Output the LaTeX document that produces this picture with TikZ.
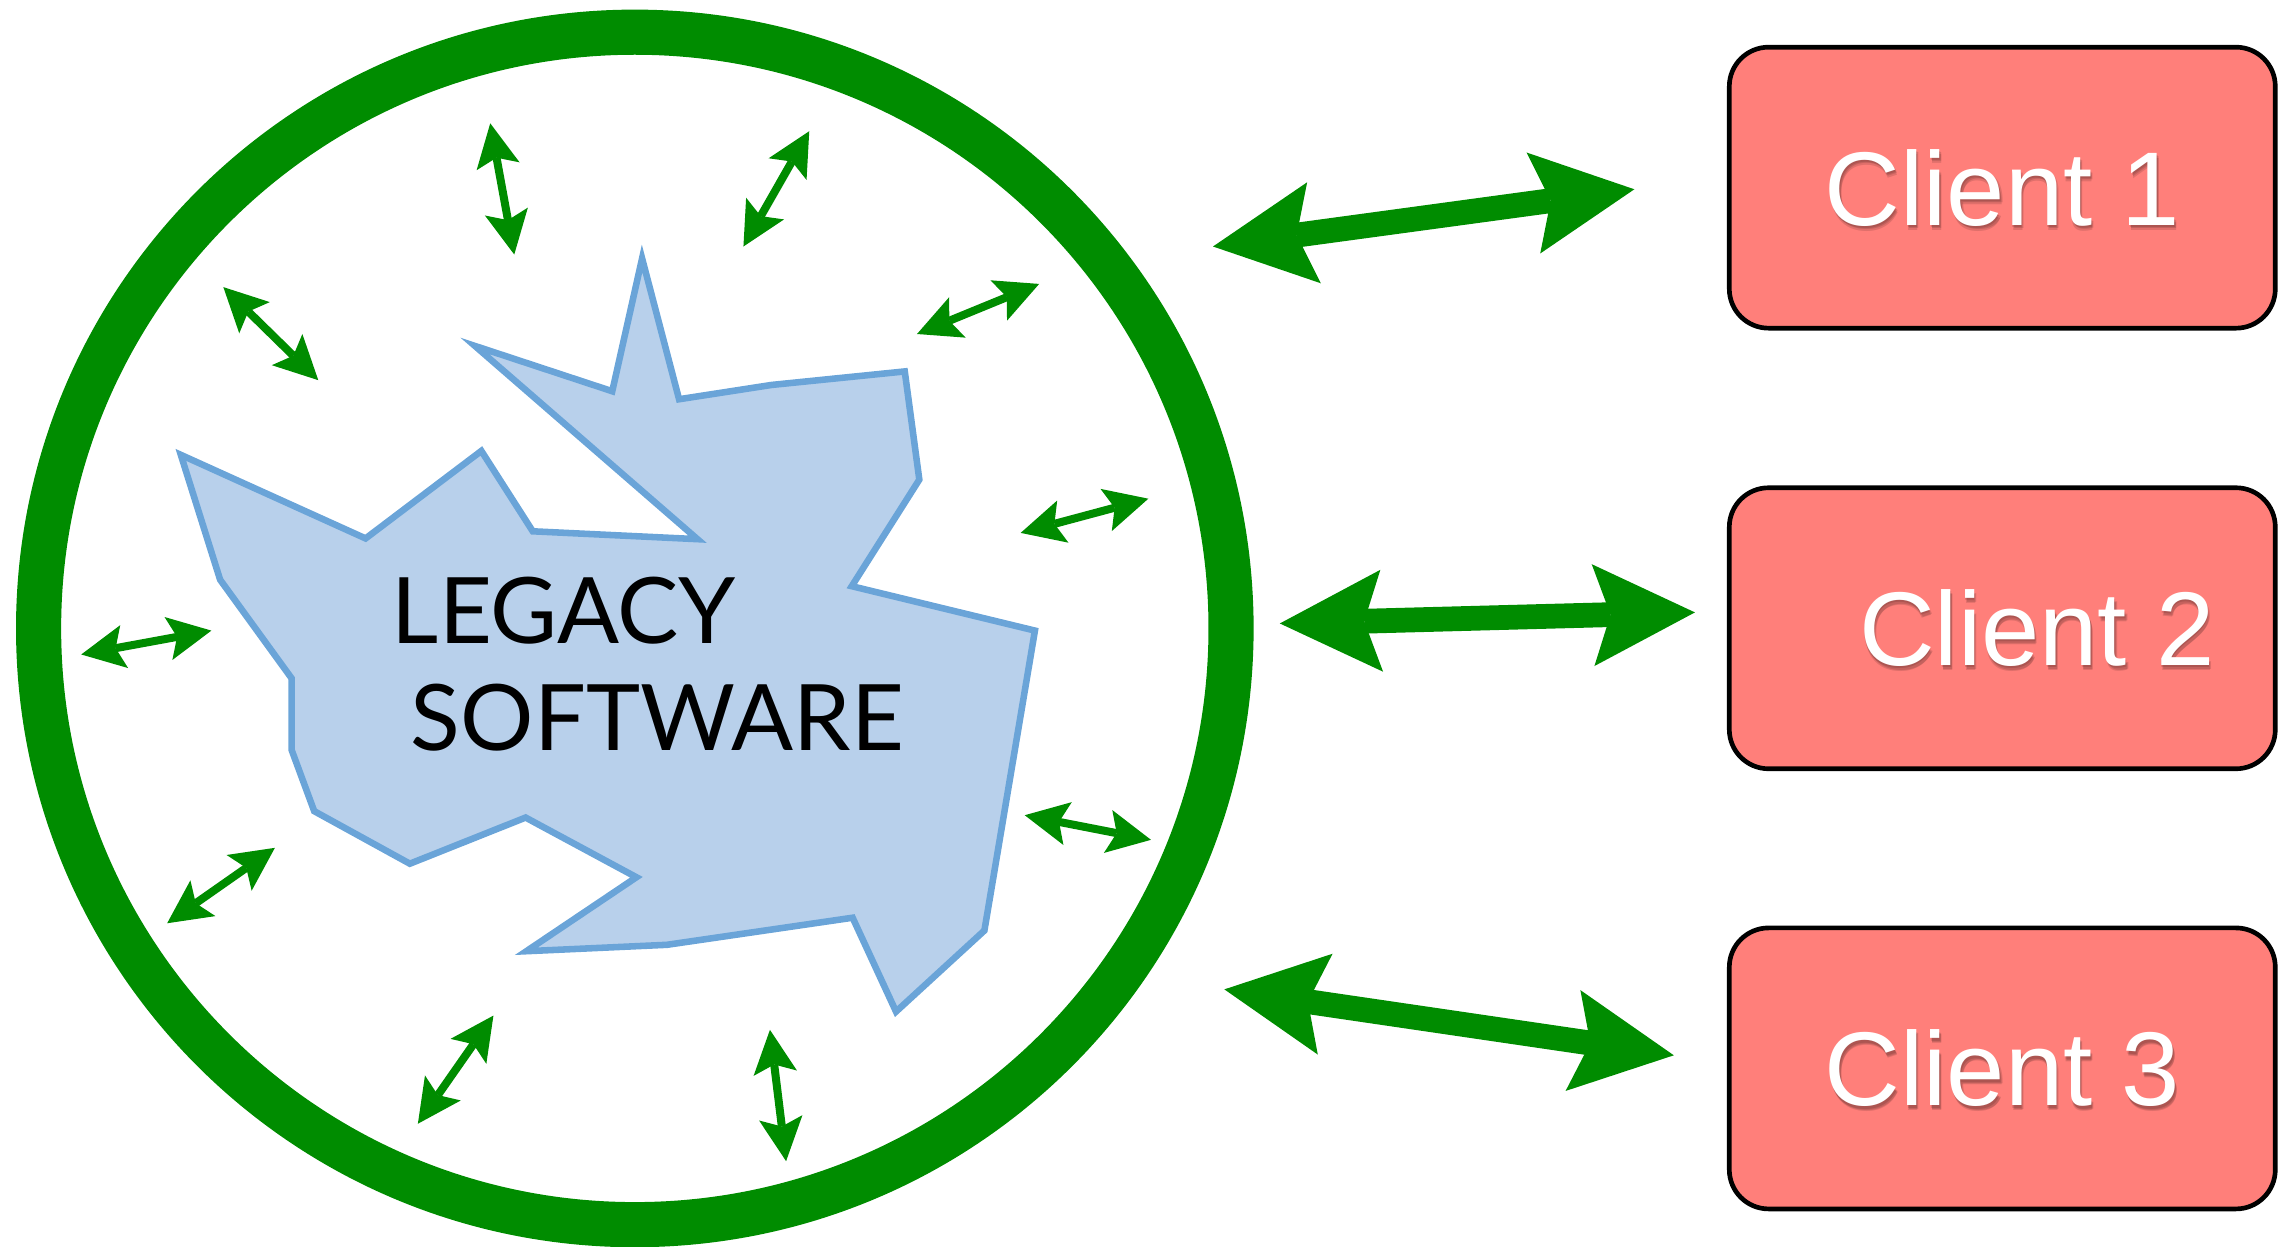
\documentclass[tikz,border=0pt]{standalone}
\usepackage{fontspec}
\setmainfont{Liberation Sans}
\newfontfamily\legacyfont{Lato}
\usetikzlibrary{arrows.meta}
\definecolor{ringgreen}{HTML}{008C00}
\definecolor{clientfill}{HTML}{FF7F7A}
\definecolor{blobfill}{HTML}{B8D0EB}
\definecolor{blobedge}{HTML}{6AA4D8}
\begin{document}
\begin{tikzpicture}[x=1pt,y=-1pt,
  bigarrow/.style={draw=ringgreen, line width=17pt, {Stealth[length=70pt,width=70pt,inset=12pt,line width=0pt]}-{Stealth[length=70pt,width=70pt,inset=12pt,line width=0pt]}},
  smallarrow/.style={draw=ringgreen, line width=5.5pt, {Stealth[length=30pt,width=30pt,inset=6pt,line width=0pt]}-{Stealth[length=30pt,width=30pt,inset=6pt,line width=0pt]}},
  clientbox/.style={draw=black, line width=3.2pt, fill=clientfill, rounded corners=27pt, minimum width=375pt, minimum height=193pt, inner sep=0pt},
  clienttext/.style={text=white, font=\fontsize{72}{80}\selectfont, inner sep=0pt},
  clientshadow/.style={text=black, opacity=0.12, font=\fontsize{72}{80}\selectfont, inner sep=0pt},
  legacytext/.style={text=black, font=\legacyfont\fontsize{63}{70}\selectfont, inner sep=0pt, anchor=base west},
  ring/.style={draw=ringgreen, line width=31pt},
  blob/.style={draw=blobedge, fill=blobfill, line width=4.5pt, line join=miter}
]
\useasboundingbox (0,0) rectangle (1568,856.45);

% ring
\node[ring, circle, minimum size=819pt, inner sep=0pt] (ring) at (436,431.6) {};

% legacy blob
\draw[blob] (326.2,237.6) -- (420.5,268.7) -- (441,177.5) -- (466.4,274.2)
  -- (529.8,264.4) -- (621.4,255.1) -- (631.4,329.4) -- (585,402.6)
  -- (710.8,433.1) -- (676.1,639.1) -- (615.4,694.8) -- (585.6,630.3)
  -- (458.1,648.9) -- (361.5,653.3) -- (437.1,602.5) -- (361,561.5)
  -- (281.5,593.2) -- (215.8,557.1) -- (200.3,515.1) -- (200.3,465.9)
  -- (151.2,398.2) -- (124.2,312.4) -- (251.1,369.8) -- (330.6,309.7)
  -- (365.9,364.9) -- (479,370.3) -- cycle;

\node[legacytext] (leg1) at (269,441.8) {LEGACY};
\node[legacytext] (leg2) at (282,515.5) {SOFTWARE};

% small arrows
\coordinate (s1a) at (336.7,84.7);  \coordinate (s1b) at (353.2,174.8);
\coordinate (s2a) at (555.8,90.1);  \coordinate (s2b) at (510.6,169.3);
\coordinate (s3a) at (153.4,197.2); \coordinate (s3b) at (218.6,261.1);
\coordinate (s4a) at (713.7,195);   \coordinate (s4b) at (629.8,229.4);
\coordinate (s5a) at (788.7,342.5); \coordinate (s5b) at (701,366);
\coordinate (s6a) at (145.2,433.1); \coordinate (s6b) at (55.8,449.5);
\coordinate (s7a) at (790.5,576.8); \coordinate (s7b) at (703.8,559.9);
\coordinate (s8a) at (188.8,582.3); \coordinate (s8b) at (114.8,634.1);
\coordinate (s9a) at (338.9,697.5); \coordinate (s9b) at (287,771.8);
\coordinate (s10a) at (528.8,707.3); \coordinate (s10b) at (539.9,797.5);
\foreach \i in {1,...,10} { \draw[smallarrow] (s\i a) -- (s\i b); }

% clients
\node[clientbox] (c1) at (1375.2,128.9) {};
\node[clientbox] (c2) at (1375.2,431.5) {};
\node[clientbox] (c3) at (1375.2,733.8) {};
\foreach \dx/\dy in {0.5/-1.5,1.5/-2.5,1/-3.5} {
  \node[clientshadow] at ([xshift=\dx pt,yshift=\dy pt]c1.center) {Client 1};
  \node[clientshadow] at ([xshift=23.7pt+\dx pt,yshift=\dy pt]c2.center) {Client 2};
  \node[clientshadow] at ([xshift=\dx pt,yshift=\dy pt]c3.center) {Client 3};
}
\node[clienttext] (t1) at (c1.center) {Client 1};
\node[clienttext] (t2) at ([xshift=23.7pt]c2.center) {Client 2};
\node[clienttext] (t3) at (c3.center) {Client 3};

% big arrows
\coordinate (b1a) at (833.1,169.3); \coordinate (b1b) at (1122.5,130);
\coordinate (b2a) at (879,428.2);   \coordinate (b2b) at (1164.1,420.6);
\coordinate (b3a) at (840.9,679.5); \coordinate (b3b) at (1149.6,724.8);
\draw[bigarrow] (b1a) -- (b1b);
\draw[bigarrow] (b2a) -- (b2b);
\draw[bigarrow] (b3a) -- (b3b);
\end{tikzpicture}
\end{document}
